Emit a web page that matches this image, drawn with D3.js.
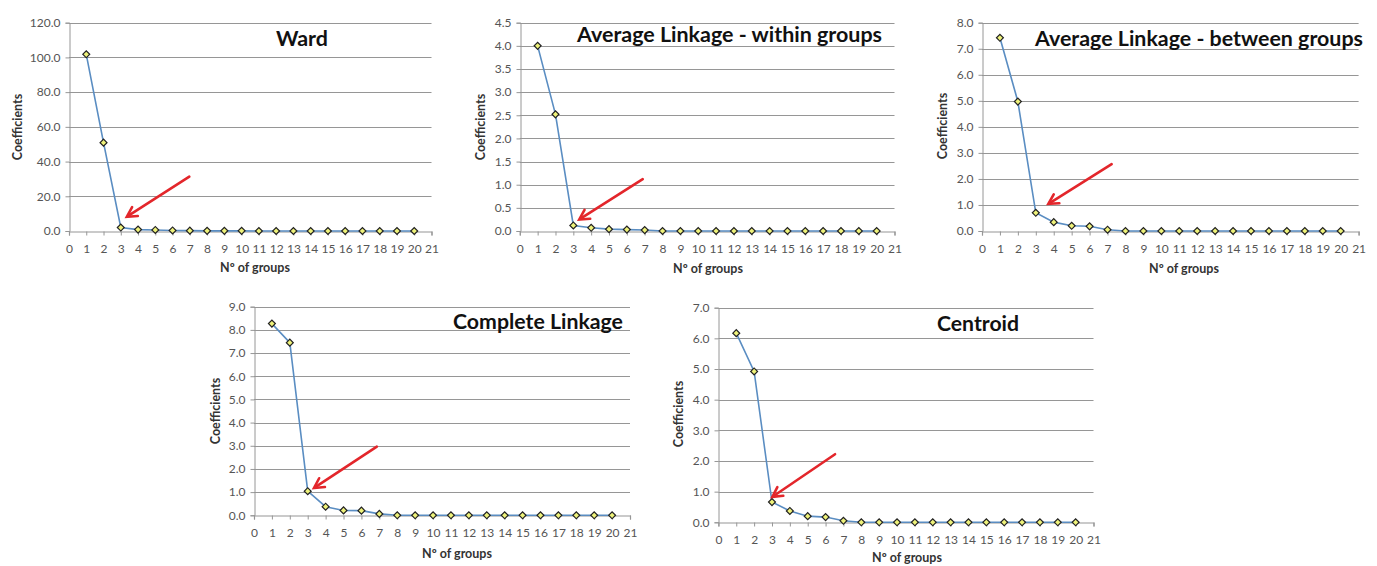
<!DOCTYPE html>
<html>
<head>
<meta charset="utf-8">
<script src="https://cdn.jsdelivr.net/npm/d3@7"></script>
<style>
  html, body { margin: 0; padding: 0; background: #ffffff; }
  svg { display: block; }
</style>
</head>
<body>
<svg id="chart" width="1377" height="566"></svg>
<script>
// ---------------- DATA ----------------
const groups = [1, 2, 3, 4, 5, 6, 7, 8, 9, 10, 11, 12, 13, 14, 15, 16, 17, 18, 19, 20];
const xTicks = [0, 1, 2, 3, 4, 5, 6, 7, 8, 9, 10, 11, 12, 13, 14, 15, 16, 17, 18, 19, 20, 21];

const titles = ["Ward", "Average Linkage - within groups", "Average Linkage - between groups", "Complete Linkage", "Centroid"];

const wardValues      = [101.8, 50.9, 2.0, 0.8, 0.6, 0.3, 0.2, 0.1, 0.1, 0.1, 0.0, 0.0, 0.0, 0.0, 0.0, 0.0, 0.0, 0.0, 0.0, 0.0];
const avgWithinValues = [4.00, 2.52, 0.12, 0.07, 0.04, 0.03, 0.02, 0.00, 0.00, 0.00, 0.00, 0.00, 0.00, 0.00, 0.00, 0.00, 0.00, 0.00, 0.00, 0.00];
const avgBetweenValues= [7.42, 4.97, 0.70, 0.34, 0.20, 0.18, 0.05, 0.00, 0.00, 0.00, 0.00, 0.00, 0.00, 0.00, 0.00, 0.00, 0.00, 0.00, 0.00, 0.00];
const completeValues  = [8.27, 7.45, 1.04, 0.37, 0.21, 0.20, 0.06, 0.00, 0.00, 0.00, 0.00, 0.00, 0.00, 0.00, 0.00, 0.00, 0.00, 0.00, 0.00, 0.00];
const centroidValues  = [6.17, 4.92, 0.66, 0.37, 0.20, 0.17, 0.05, 0.00, 0.00, 0.00, 0.00, 0.00, 0.00, 0.00, 0.00, 0.00, 0.00, 0.00, 0.00, 0.00];

const wardTicks       = [0, 20, 40, 60, 80, 100, 120];
const avgWithinTicks  = [0, 0.5, 1.0, 1.5, 2.0, 2.5, 3.0, 3.5, 4.0, 4.5];
const avgBetweenTicks = [0, 1, 2, 3, 4, 5, 6, 7, 8];
const completeTicks   = [0, 1, 2, 3, 4, 5, 6, 7, 8, 9];
const centroidTicks   = [0, 1, 2, 3, 4, 5, 6, 7];

// arrows in data coordinates: [fromX, fromY, toX, toY]
const wardArrow       = [6.97, 31.3, 3.35, 8.2];
const avgWithinArrow  = [6.89, 1.12, 3.33, 0.25];
const avgBetweenArrow = [7.23, 2.57, 3.70, 1.04];
const completeArrow   = [6.86, 2.96, 3.35, 1.18];
const centroidArrow   = [6.53, 2.22, 3.02, 0.83];

const xLabel = "Nº of groups";
const yLabel = "Coefficients";

// ---------------- LAYOUT ----------------
const panels = [
  { title: titles[0], values: wardValues, ticks: wardTicks, arrow: wardArrow,
    x0: 69, x1: 431.5, yTop: 22.7, yBot: 231,
    tx: 276, tw: 52, tb: 46, ylx: 17, yly: 127, xlx: 255, xly: 272 },
  { title: titles[1], values: avgWithinValues, ticks: avgWithinTicks, arrow: avgWithinArrow,
    x0: 519.8, x1: 894.5, yTop: 22.7, yBot: 231,
    tx: 577, tw: 305, tb: 42, ylx: 480, yly: 127, xlx: 708, xly: 273 },
  { title: titles[2], values: avgBetweenValues, ticks: avgBetweenTicks, arrow: avgBetweenArrow,
    x0: 982, x1: 1358.6, yTop: 22.7, yBot: 231,
    tx: 1035, tw: 328, tb: 46, ylx: 942.5, yly: 126, xlx: 1184, xly: 273 },
  { title: titles[3], values: completeValues, ticks: completeTicks, arrow: completeArrow,
    x0: 254, x1: 630, yTop: 306.7, yBot: 515.3,
    tx: 453, tw: 170, tb: 328.5, ylx: 215, yly: 411, xlx: 457, xly: 558 },
  { title: titles[4], values: centroidValues, ticks: centroidTicks, arrow: centroidArrow,
    x0: 718.4, x1: 1093.5, yTop: 307.7, yBot: 522.3,
    tx: 937, tw: 82, tb: 330.5, ylx: 678, yly: 414, xlx: 907, xly: 562 }
];

const FONT = "Lato, 'Open Sans', sans-serif";
const GRID = "#969696";
const LINE = "#5a8dc2";
const svg = d3.select("#chart");

panels.forEach(p => {
  const maxT = p.ticks[p.ticks.length - 1];
  const x = d3.scaleLinear().domain([0, 21]).range([p.x0, p.x1]);
  const y = d3.scaleLinear().domain([0, maxT]).range([p.yBot, p.yTop]);
  const g = svg.append("g");
  const fmt = d3.format(".1f");

  // gridlines (horizontal)
  g.append("g").selectAll("line").data(p.ticks.filter(t => t > 0)).join("line")
    .attr("x1", p.x0).attr("x2", p.x1)
    .attr("y1", d => Math.round(y(d)) + 0.5).attr("y2", d => Math.round(y(d)) + 0.5)
    .attr("stroke", GRID).attr("stroke-width", 1.2);

  // y axis
  const yAxis = d3.axisLeft(y).tickValues(p.ticks).tickFormat(fmt).tickSize(4).tickPadding(5);
  const ya = g.append("g").attr("transform", `translate(${Math.round(p.x0) + 0.5},0)`).call(yAxis);
  ya.select(".domain").attr("stroke", GRID).attr("stroke-width", 1);
  ya.selectAll(".tick line").attr("stroke", GRID);
  ya.selectAll(".tick text").attr("fill", "#555").style("font-family", FONT).style("font-size", "12px");

  // x axis
  const xAxis = d3.axisBottom(x).tickValues(xTicks).tickFormat(d3.format("d")).tickSize(4).tickPadding(9);
  const xa = g.append("g").attr("transform", `translate(0,${Math.round(p.yBot) + 0.5})`).call(xAxis);
  xa.select(".domain").attr("stroke", GRID).attr("stroke-width", 1.2);
  xa.selectAll(".tick line").attr("stroke", GRID);
  xa.selectAll(".tick text").attr("fill", "#555").style("font-family", FONT).style("font-size", "12px");

  // series line
  const line = d3.line().x((d, i) => x(groups[i])).y(d => y(d));
  g.append("path").datum(p.values).attr("d", line)
    .attr("fill", "none").attr("stroke", LINE).attr("stroke-width", 1.6);

  // diamond markers
  g.append("g").selectAll("path").data(p.values).join("path")
    .attr("transform", (d, i) => `translate(${x(groups[i])},${y(d)}) rotate(45)`)
    .attr("d", d3.symbol().type(d3.symbolSquare).size(24))
    .attr("fill", "#eef27a").attr("stroke", "#222").attr("stroke-width", 1.2);

  // red arrow
  const [fx, fy, tx2, ty2] = p.arrow;
  const X1 = x(fx), Y1 = y(fy), X2 = x(tx2), Y2 = y(ty2);
  const ang = Math.atan2(Y2 - Y1, X2 - X1);
  const L = 11, spread = 0.5;
  g.append("line")
    .attr("x1", X1).attr("y1", Y1)
    .attr("x2", X2 - Math.cos(ang) * 2).attr("y2", Y2 - Math.sin(ang) * 2)
    .attr("stroke", "#e3262b").attr("stroke-width", 2.6).attr("stroke-linecap", "round");
  const hx1 = X2 - L * Math.cos(ang - spread), hy1 = Y2 - L * Math.sin(ang - spread);
  const hx2 = X2 - L * Math.cos(ang + spread), hy2 = Y2 - L * Math.sin(ang + spread);
  g.append("path")
    .attr("d", `M${hx1},${hy1} L${X2},${Y2} L${hx2},${hy2}`)
    .attr("fill", "none").attr("stroke", "#e3262b").attr("stroke-width", 2.6)
    .attr("stroke-linejoin", "miter").attr("stroke-linecap", "round");

  // title
  g.append("text").attr("x", p.tx).attr("y", p.tb)
    .attr("textLength", p.tw).attr("lengthAdjust", "spacingAndGlyphs")
    .style("font-family", FONT).style("font-weight", "bold").style("font-size", "20px")
    .attr("fill", "#111").text(p.title);

  // y label
  g.append("text").attr("transform", `translate(${p.ylx + 4.5},${p.yly}) rotate(-90)`)
    .attr("text-anchor", "middle")
    .style("font-family", FONT).style("font-weight", "bold").style("font-size", "12.5px")
    .attr("fill", "#333").text(yLabel);

  // x label
  g.append("text").attr("x", p.xlx).attr("y", p.xly).attr("text-anchor", "middle")
    .style("font-family", FONT).style("font-weight", "bold").style("font-size", "12.5px")
    .attr("fill", "#333").text(xLabel);
});
</script>
</body>
</html>
